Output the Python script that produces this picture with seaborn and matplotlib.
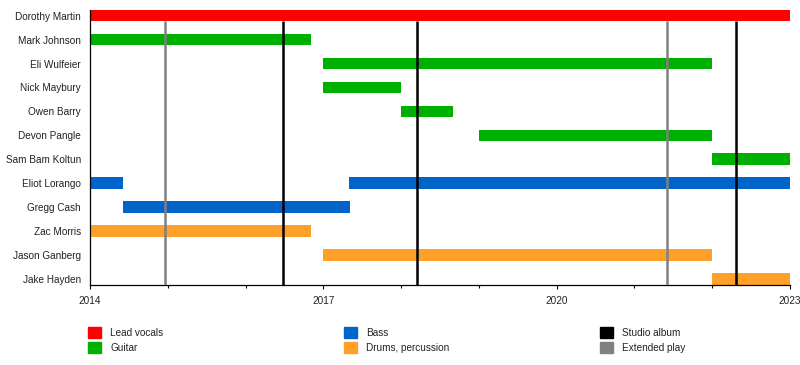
import matplotlib
matplotlib.use("Agg")
import matplotlib.pyplot as plt
import matplotlib.patches as mpatches
from matplotlib.ticker import MultipleLocator
import seaborn as sns
import pandas as pd

# ---------------- data ----------------
members = ["Dorothy Martin", "Mark Johnson", "Eli Wulfeier", "Nick Maybury",
           "Owen Barry", "Devon Pangle", "Sam Bam Koltun", "Eliot Lorango",
           "Gregg Cash", "Zac Morris", "Jason Ganberg", "Jake Hayden"]

period_member = ["Dorothy Martin", "Mark Johnson", "Eli Wulfeier", "Nick Maybury",
                 "Owen Barry", "Devon Pangle", "Sam Bam Koltun", "Eliot Lorango",
                 "Eliot Lorango", "Gregg Cash", "Zac Morris", "Jason Ganberg",
                 "Jake Hayden"]
period_start = [2014.0, 2014.0, 2017.0, 2017.0, 2018.0, 2019.0, 2022.0,
                2014.0, 2017.33, 2014.42, 2014.0, 2017.0, 2022.0]
period_end = [2023.0, 2016.84, 2022.0, 2018.0, 2018.67, 2022.0, 2023.0,
              2014.42, 2023.0, 2017.34, 2016.84, 2022.0, 2023.0]
period_role = ["Lead vocals", "Guitar", "Guitar", "Guitar", "Guitar", "Guitar",
               "Guitar", "Bass", "Bass", "Bass", "Drums, percussion",
               "Drums, percussion", "Drums, percussion"]

roles = ["Lead vocals", "Guitar", "Bass", "Drums, percussion"]
role_colors = ["#FF0000", "#00B000", "#0064C8", "#FFA02A"]

release_dates = [2014.96, 2016.48, 2018.20, 2021.42, 2022.31]
release_types = ["Extended play", "Studio album", "Studio album",
                 "Extended play", "Studio album"]
release_kinds = ["Studio album", "Extended play"]
release_colors = ["#000000", "#808080"]

year_min, year_max = 2014, 2023
major_years = [2014, 2017, 2020, 2023]

# ---------------- style ----------------
sns.set_theme(style="white")
plt.rcParams["font.family"] = ["Liberation Sans", "DejaVu Sans"]
FS = 7.2

df = pd.DataFrame({"member": period_member, "start": period_start,
                   "end": period_end, "role": period_role})
df["y"] = df["member"].map({m: i for i, m in enumerate(members)})
cmap = dict(zip(roles, role_colors))
rmap = dict(zip(release_kinds, release_colors))

fig = plt.figure(figsize=(8, 3.65), dpi=100)
ax = fig.add_axes([90 / 800, 80 / 365, 700 / 800, 275 / 365])

bar_h = 0.48
ax.barh(df["y"], df["end"] - df["start"], left=df["start"], height=bar_h,
        color=df["role"].map(cmap), linewidth=0, zorder=2)

ax.vlines(release_dates, ymin=bar_h / 2, ymax=len(members) - 1 + 0.26,
          colors=[rmap[t] for t in release_types], linewidth=1.8, zorder=3)

ax.set_xlim(year_min, year_max)
ax.set_ylim(len(members) - 1 + 0.26, -bar_h / 2)
ax.set_yticks(range(len(members)))
ax.set_yticklabels(members, fontsize=FS, color="#222222")
ax.set_xticks(major_years)
ax.set_xticklabels([str(y) for y in major_years], fontsize=FS, color="#222222")
ax.xaxis.set_minor_locator(MultipleLocator(1))
ax.tick_params(axis="y", length=0, pad=6.5)
ax.tick_params(axis="x", which="major", length=3, width=0.8, color="black",
               direction="out", pad=5, bottom=True)
ax.tick_params(axis="x", which="minor", length=2.2, width=0.8, color="black",
               direction="out", bottom=True)
sns.despine(ax=ax, top=True, right=True)
for s in ["left", "bottom"]:
    ax.spines[s].set_color("black")
    ax.spines[s].set_linewidth(0.9)
ax.grid(False)

# ---------------- legends ----------------
groups = [
    (roles[:2], role_colors[:2]),
    (roles[2:], role_colors[2:]),
    (release_kinds, release_colors),
]
col_x = [88, 344, 600]
fs_px = FS * 100 / 72
for (labels, colors), cx in zip(groups, col_x):
    handles = [mpatches.Patch(color=c, label=l) for l, c in zip(labels, colors)]
    leg = fig.legend(handles=handles, loc="upper left",
                     bbox_to_anchor=(cx / 800, 1 - 327 / 365),
                     frameon=False, fontsize=FS, borderpad=0, borderaxespad=0,
                     handlelength=13 / fs_px, handleheight=13 / fs_px,
                     handletextpad=9.5 / fs_px, labelspacing=4 / fs_px)
    for t in leg.get_texts():
        t.set_color("#222222")

fig.savefig("out.png", dpi=100)
